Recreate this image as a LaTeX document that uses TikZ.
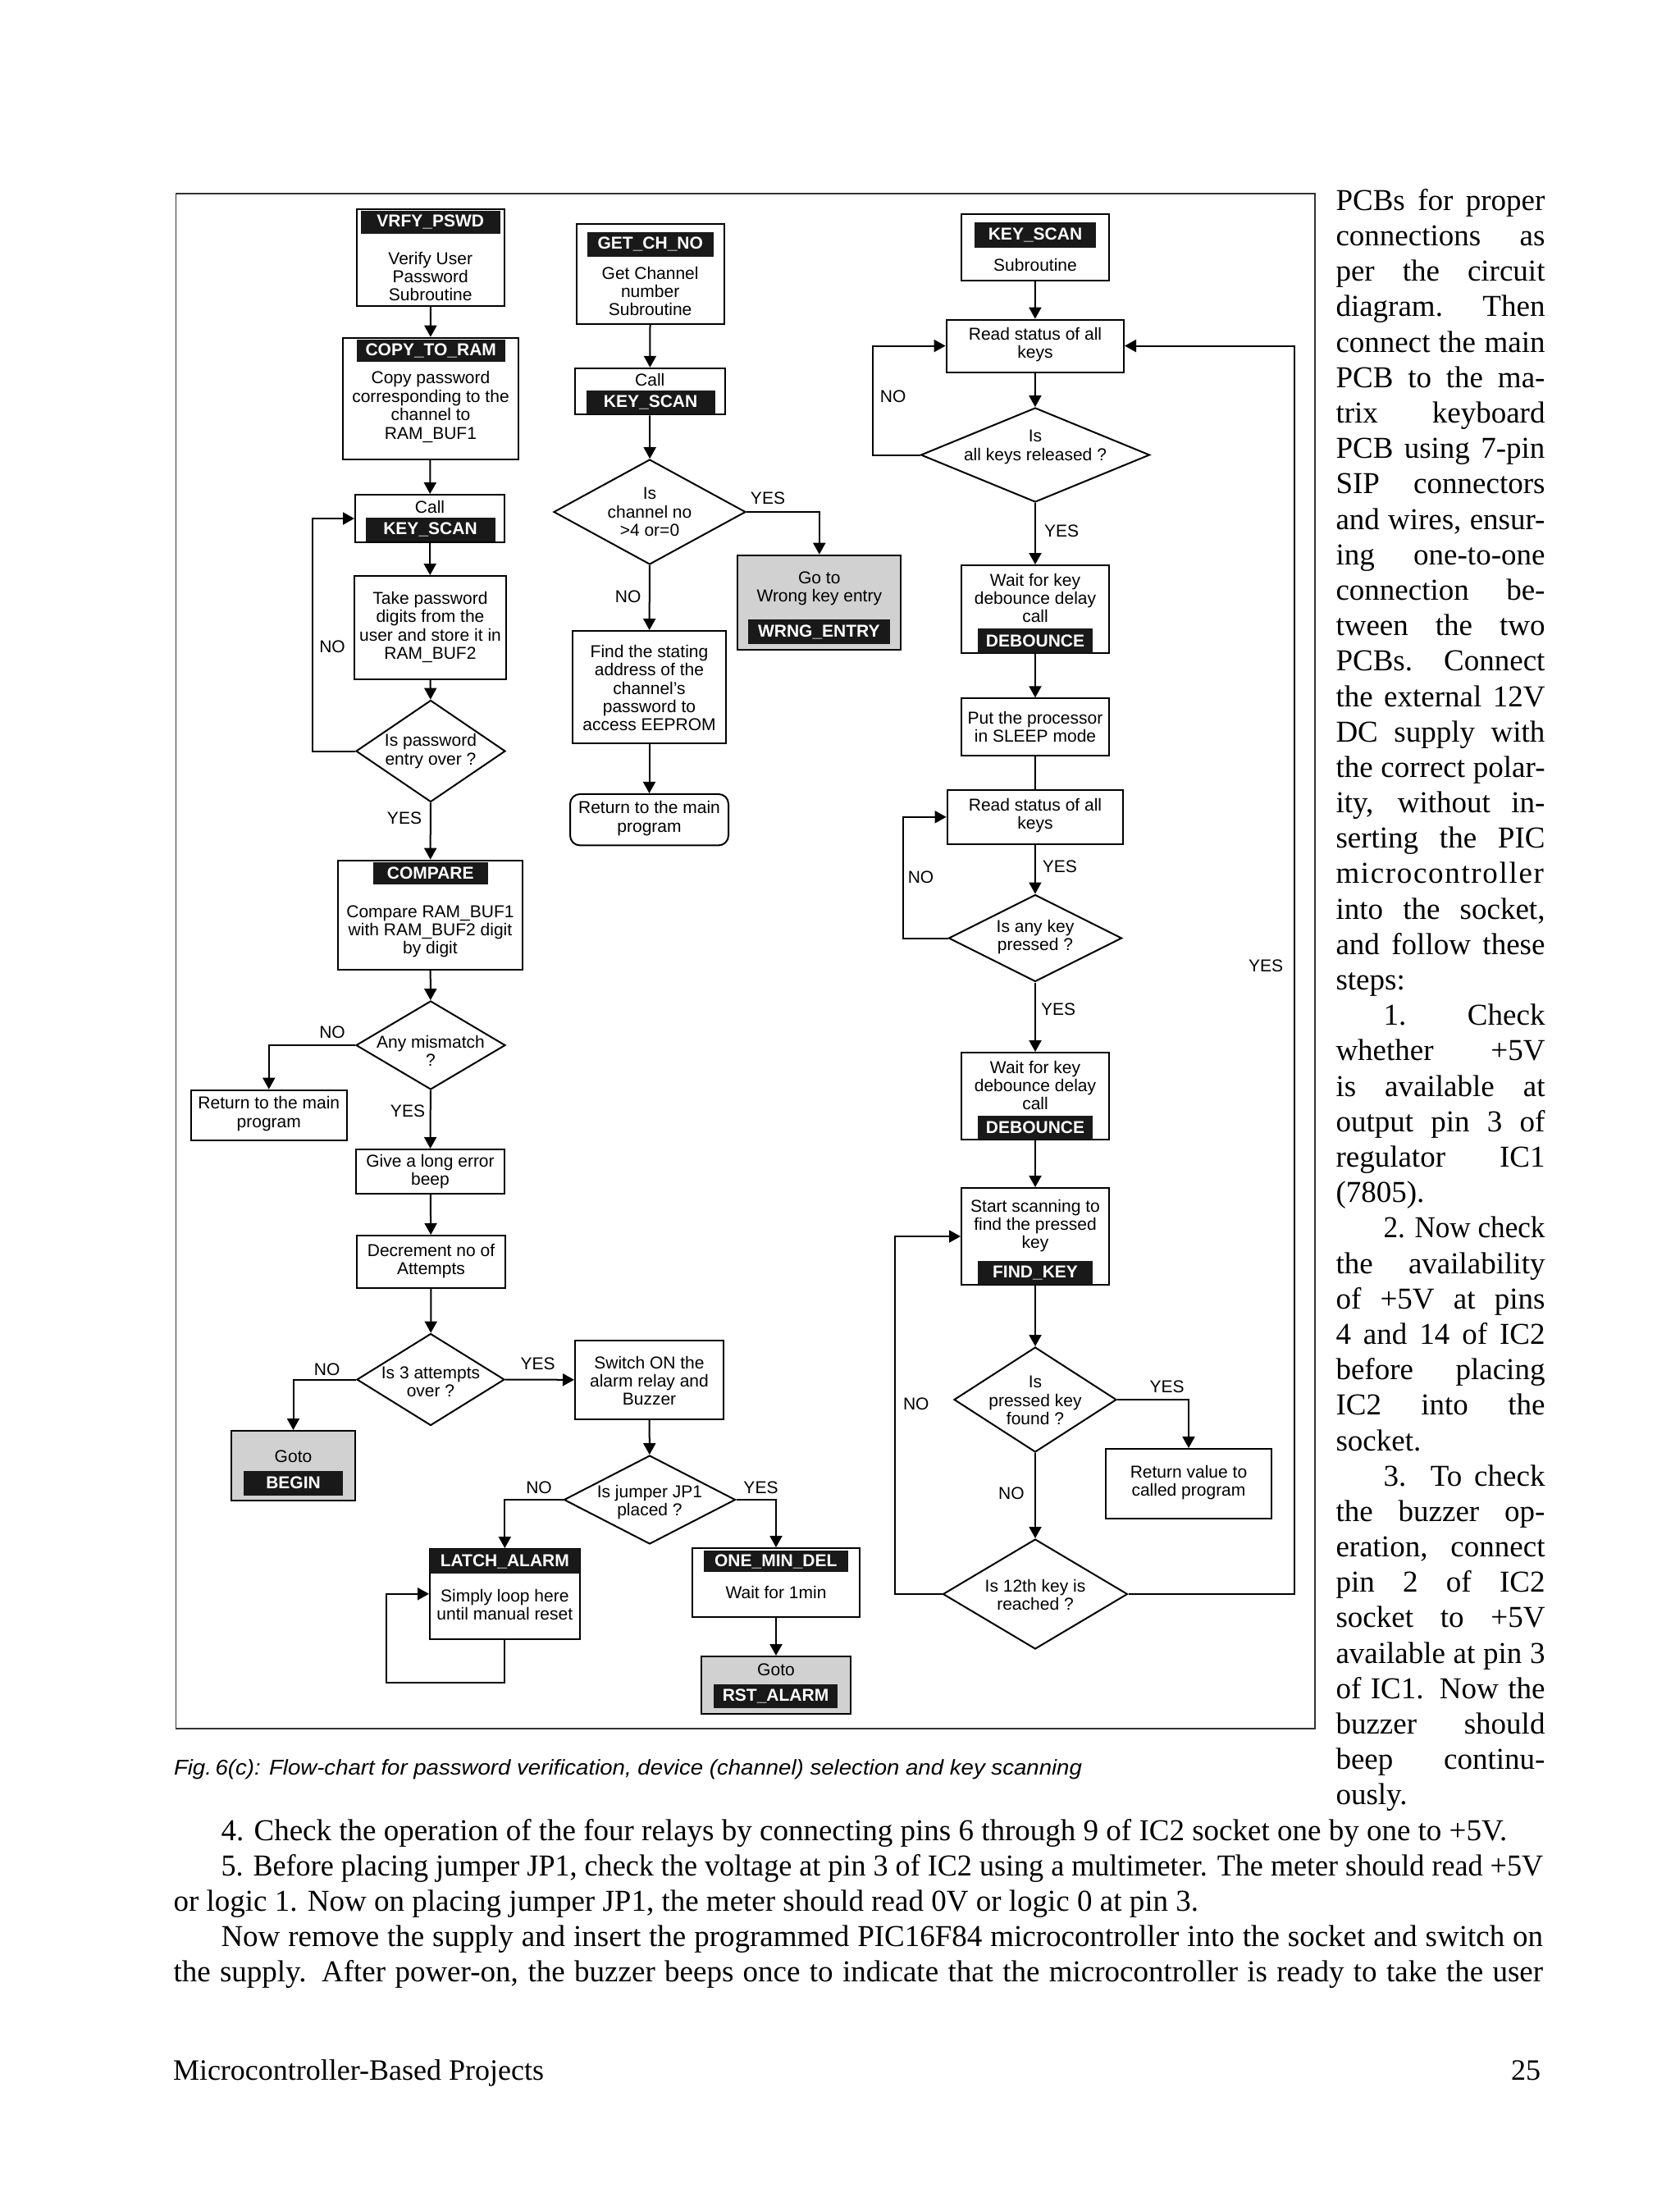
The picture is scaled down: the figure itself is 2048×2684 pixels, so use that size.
\documentclass[tikz,border=0pt]{standalone}
\usepackage{fontspec}
\setmainfont{Liberation Serif}
\setsansfont{Liberation Sans}
\usepackage{graphicx}
\usetikzlibrary{shapes.geometric,arrows.meta}

\definecolor{gotogray}{gray}{0.82}
\newlength\colw  \setlength\colw{127.5pt}
\newlength\colwi \setlength\colwi{98.5pt}
\newlength\parw  \setlength\parw{834.75pt}
\newlength\parwi \setlength\parwi{805.75pt}
% justified line: stretch the spaces, or squeeze if too wide
\newcommand\jline[2]{\sbox0{#2}\ifdim\wd0>#1\relax\resizebox{#1}{\height}{#2}\else\makebox[#1][s]{#2}\fi}

\begin{document}
\begin{tikzpicture}[x=0.5pt, y=-0.5pt, line width=1pt,
  sz/.style 2 args={minimum width=#1*0.5pt, minimum height=#2*0.5pt},
  box/.style={draw, fill=white, inner sep=0pt},
  gotobox/.style={draw, fill=gotogray, inner sep=0pt},
  decision/.style={draw, diamond, fill=white, inner sep=0pt},
  hdr/.style={fill=black!90, text=white, inner sep=0pt, font=\sffamily\bfseries\fontsize{10.5}{11.2}\selectfont},
  ftxt/.style={font=\sffamily\fontsize{10.5}{11.2}\selectfont, align=center, inner sep=0pt},
  yn/.style={font=\sffamily\fontsize{10.5}{11.2}\selectfont, inner sep=0pt},
  btxt/.style={font=\fontsize{18.5}{21.6}\selectfont, inner sep=0pt, anchor=mid west},
  arr/.style={-{Triangle[length=7pt,width=7.5pt]}}]
 \useasboundingbox (0,0) rectangle (2048,2684);

 % frame of the figure
 \draw[line width=0.8pt, black!80] (214.5,236) rectangle (1603,2107);

 % boxes
 \node[box, sz={180.5}{118.5}] (vrfy) at (524.75,313.75) {};
 \node[box, sz={214}{148.3}] (copy) at (525,485.85) {};
 \node[box, sz={182}{58}] (call1) at (524,632) {};
 \node[box, sz={185}{126}] (take) at (524.5,765) {};
 \node[box, sz={225}{133.3}] (cmp) at (524.5,1115.35) {};
 \node[box, sz={189.6}{61.1}] (ret1) at (327.8,1359.15) {};
 \node[box, sz={181}{54}] (beep) at (524.5,1428) {};
 \node[box, sz={181}{64}] (decr) at (525.5,1538) {};
 \node[box, sz={181}{95.6}] (alarm) at (791.5,1681.8) {};
 \node[box, sz={182.7}{109.5}] (latch) at (615.35,1942.75) {};
 \node[box, sz={204}{83.7}] (onemin) at (946,1928.85) {};
 \node[box, sz={179.9}{121.4}] (getch) at (792.65,334) {};
 \node[box, sz={182.6}{56.6}] (call2) at (792.3,477.1) {};
 \node[box, sz={187.8}{136.5}] (find) at (791.5,837.25) {};
 \node[box, sz={193}{62.5}, rounded corners=6pt] (ret2) at (791.5,999.15) {};
 \node[box, sz={180}{81.4}] (ks) at (1262,301.3) {};
 \node[box, sz={216.4}{63.9}] (rd1) at (1261.8,421.55) {};
 \node[box, sz={180}{106.6}] (db1) at (1262,742.3) {};
 \node[box, sz={180}{69.2}] (sleep) at (1262,885.9) {};
 \node[box, sz={214.4}{65.6}] (rd2) at (1261.8,995.8) {};
 \node[box, sz={180}{106}] (db2) at (1262,1336) {};
 \node[box, sz={180}{118}] (start) at (1262,1507) {};
 \node[box, sz={202}{84.7}] (retv) at (1449,1808.35) {};
 \node[gotobox, sz={151}{84.6}] (begin) at (357.5,1786.3) {};
 \node[gotobox, sz={199}{115}] (wrng) at (998.8,734.2) {};
 \node[gotobox, sz={182}{70}] (rst) at (946,2054) {};

 % decisions
 \node[decision, sz={182}{124}] (pswd) at (525,915.5) {};
 \node[decision, sz={182}{108}] (mis) at (525,1274) {};
 \node[decision, sz={180}{112}] (att) at (525,1681.5) {};
 \node[decision, sz={209}{108}] (jp1) at (792,1828) {};
 \node[decision, sz={234}{128}] (chn) at (792,624) {};
 \node[decision, sz={279}{115}] (rel) at (1262,554.5) {};
 \node[decision, sz={211}{106}] (any) at (1262,1143.5) {};
 \node[decision, sz={198}{128}] (found) at (1262,1706) {};
 \node[decision, sz={225}{134}] (k12) at (1262,1943) {};

 % black name bars
 \node[hdr, sz={170.4}{27.5}] (vrfyH) at (524.8,270.75) {VRFY\_PSWD};
 \node[hdr, sz={181.5}{27}] (copyH) at (525.25,427.5) {COPY\_TO\_RAM};
 \node[hdr, sz={158}{29}] (call1H) at (524.5,645.5) {KEY\_SCAN};
 \node[hdr, sz={140}{26.7}] (cmpH) at (524.75,1064.35) {COMPARE};
 \node[hdr, sz={121}{30}] (beginH) at (357.5,1807.5) {BEGIN};
 \node[hdr, sz={182.7}{30}] (latchH) at (615.35,1903) {LATCH\_ALARM};
 \node[hdr, sz={175.5}{26}] (oneminH) at (945.75,1903) {ONE\_MIN\_DEL};
 \node[hdr, sz={151}{29}] (rstH) at (945.5,2067.5) {RST\_ALARM};
 \node[hdr, sz={154.5}{30.3}] (getchH) at (792.75,297.85) {GET\_CH\_NO};
 \node[hdr, sz={157}{29}] (call2H) at (793.1,490.9) {KEY\_SCAN};
 \node[hdr, sz={173.3}{30}] (wrngH) at (998.35,770) {WRNG\_ENTRY};
 \node[hdr, sz={148}{30.3}] (ksH) at (1262,286.45) {KEY\_SCAN};
 \node[hdr, sz={140}{29.1}] (db1H) at (1262,781) {DEBOUNCE};
 \node[hdr, sz={140}{29}] (db2H) at (1262,1374.5) {DEBOUNCE};
 \node[hdr, sz={140}{28.7}] (startH) at (1262,1551.65) {FIND\_KEY};

 % texts in the boxes
 \node[ftxt] (vrfyT) at (524.75,337) {Verify User\\Password\\Subroutine};
 \node[ftxt] (copyT) at (525,496) {Copy password\\corresponding to the\\channel to\\RAM\_BUF1};
 \node[ftxt] (call1T) at (524,617.5) {Call};
 \node[ftxt] (takeT) at (524.5,764.5) {Take password\\digits from the\\user and store it in\\RAM\_BUF2};
 \node[ftxt] (pswdT) at (525,915.5) {Is password\\entry over ?};
 \node[ftxt] (cmpT) at (524.5,1135.3) {Compare RAM\_BUF1\\with RAM\_BUF2 digit\\by digit};
 \node[ftxt] (misT) at (525,1281) {Any mismatch\\?};
 \node[ftxt] (ret1T) at (327.8,1357.6) {Return to the main\\program};
 \node[ftxt] (beepT) at (524.5,1427.8) {Give a long error\\beep};
 \node[ftxt] (decrT) at (525.5,1537) {Decrement no of\\Attempts};
 \node[ftxt] (attT) at (525,1684) {Is 3 attempts\\over ?};
 \node[ftxt] (beginT) at (357.5,1775) {Goto};
 \node[ftxt] (alarmT) at (791.5,1683) {Switch ON the\\alarm relay and\\Buzzer};
 \node[ftxt] (jp1T) at (792,1831) {Is jumper JP1\\placed ?};
 \node[ftxt] (latchT) at (615.35,1956) {Simply loop here\\until manual reset};
 \node[ftxt] (oneminT) at (946,1941) {Wait for 1min};
 \node[ftxt] (rstT) at (946,2035) {Goto};
 \node[ftxt] (getchT) at (792.65,355) {Get Channel\\number\\Subroutine};
 \node[ftxt] (call2T) at (792.3,463) {Call};
 \node[ftxt] (chnT) at (792,624) {Is\\channel no\\>4 or=0};
 \node[ftxt] (wrngT) at (998.8,717.5) {Go to\\Wrong key entry};
 \node[ftxt] (findT) at (791.5,838.5) {Find the stating\\address of the\\channel’s\\password to\\access EEPROM};
 \node[ftxt] (ret2T) at (791.5,997.5) {Return to the main\\program};
 \node[ftxt] (ksT) at (1262,322.6) {Subroutine};
 \node[ftxt] (rd1T) at (1262,420) {Read status of all\\keys};
 \node[ftxt] (relT) at (1262,545) {Is\\all keys released ?};
 \node[ftxt] (db1T) at (1262,729) {Wait for key\\debounce delay\\call};
 \node[ftxt] (sleepT) at (1262,886) {Put the processor\\in SLEEP mode};
 \node[ftxt] (rd2T) at (1262,994) {Read status of all\\keys};
 \node[ftxt] (anyT) at (1262,1142.3) {Is any key\\pressed ?};
 \node[ftxt] (db2T) at (1262,1323) {Wait for key\\debounce delay\\call};
 \node[ftxt] (startT) at (1262,1494) {Start scanning to\\find the pressed\\key};
 \node[ftxt] (foundT) at (1262,1707) {Is\\pressed key\\found ?};
 \node[ftxt] (retvT) at (1449,1806.8) {Return value to\\called program};
 \node[ftxt] (k12T) at (1262,1944) {Is 12th key is\\reached ?};

 % bends of the loops
 \coordinate (pswdLoop) at (381,915.5);
 \coordinate (latchLoopA) at (615.35,2051);
 \coordinate (latchLoopB) at (470.8,2051);
 \coordinate (relLoop) at (1064.3,554.5);
 \coordinate (anyLoop) at (1101,1143.5);
 \coordinate (k12LoopL) at (1091,1943);
 \coordinate (k12LoopR) at (1577.5,1943);

 % connectors
 \draw[arr] (vrfy) -- (copy);
 \draw[arr] (copy) -- (call1);
 \draw[arr] (call1) -- (take);
 \draw[arr] (take) -- (pswd);
 \draw[arr] (pswd.west) -- (pswdLoop) |- (call1.west);
 \draw[arr] (pswd) -- (cmp);
 \draw[arr] (cmp) -- (mis);
 \draw[arr] (mis.west) -| (ret1.north);
 \draw[arr] (mis) -- (beep);
 \draw[arr] (beep) -- (decr);
 \draw[arr] (decr) -- (att);
 \draw[arr] (att.west) -| (begin.north);
 \draw[arr] (att.east) -- (alarm.west);
 \draw[arr] (alarm) -- (jp1);
 \draw[arr] (jp1.west) -| (latch.north);
 \draw[arr] (jp1.east) -| (onemin.north);
 \draw[arr] (latch.south) -- (latchLoopA) -- (latchLoopB) |- (latch.west);
 \draw[arr] (onemin) -- (rst);
 \draw[arr] (getch) -- (call2);
 \draw[arr] (call2) -- (chn);
 \draw[arr] (chn.east) -| (wrng.north);
 \draw[arr] (chn) -- (find);
 \draw[arr] (find) -- (ret2);
 \draw[arr] (ks) -- (rd1);
 \draw[arr] (rd1) -- (rel);
 \draw[arr] (rel.west) -- (relLoop) |- (rd1.west);
 \draw[arr] (rel) -- (db1);
 \draw[arr] (db1) -- (sleep);
 \draw (sleep) -- (rd2);
 \draw[arr] (rd2) -- (any);
 \draw[arr] (any.west) -- (anyLoop) |- (rd2.west);
 \draw[arr] (any) -- (db2);
 \draw[arr] (db2) -- (start);
 \draw[arr] (start) -- (found);
 \draw[arr] (found.east) -| (retv.north);
 \draw[arr] (found) -- (k12);
 \draw[arr] (k12.west) -- (k12LoopL) |- (start.west);
 \draw[arr] (k12.east) -- (k12LoopR) |- (rd1.east);

 % YES / NO
 \node[yn] (no1) at (405,788) {NO};
 \node[yn] (yes1) at (493,997) {YES};
 \node[yn] (no2) at (405,1258.5) {NO};
 \node[yn] (yes2) at (497,1354.5) {YES};
 \node[yn] (no3) at (398.7,1669) {NO};
 \node[yn] (yes3) at (655.6,1662.5) {YES};
 \node[yn] (no4) at (657,1813.6) {NO};
 \node[yn] (yes4) at (927.5,1813.6) {YES};
 \node[yn] (yes5) at (936,607) {YES};
 \node[yn] (no5) at (765.6,727) {NO};
 \node[yn] (no6) at (1088.6,483) {NO};
 \node[yn] (yes6) at (1294,647) {YES};
 \node[yn] (yes7) at (1291.8,1056.7) {YES};
 \node[yn] (no7) at (1122.5,1069) {NO};
 \node[yn] (yes8) at (1290,1230) {YES};
 \node[yn] (yes9) at (1543,1177) {YES};
 \node[yn] (yes10) at (1422.5,1690) {YES};
 \node[yn] (no8) at (1116.8,1711.4) {NO};
 \node[yn] (no9) at (1232.9,1820) {NO};

 % caption
 \node[inner sep=0pt, anchor=base west] (caption) at (211,2163)
   {\resizebox{553.5pt}{\height}{\sffamily\itshape\fontsize{13}{15}\selectfont Fig.\,6(c): Flow-chart for password verification, device (channel) selection and key scanning}};

 % text column
 \node[btxt] (c0) at (1627.5,251.7) {\jline{\colw}{PCBs for proper}};
 \node[btxt] (c1) at (1627.5,294.9) {\jline{\colw}{connections as}};
 \node[btxt] (c2) at (1627.5,338.1) {\jline{\colw}{per the circuit}};
 \node[btxt] (c3) at (1627.5,381.3) {\jline{\colw}{diagram. Then}};
 \node[btxt] (c4) at (1627.5,424.5) {\jline{\colw}{connect the main}};
 \node[btxt] (c5) at (1627.5,467.7) {\jline{\colw}{PCB to the ma-}};
 \node[btxt] (c6) at (1627.5,510.8) {\jline{\colw}{trix keyboard}};
 \node[btxt] (c7) at (1627.5,554.0) {\jline{\colw}{PCB using 7-pin}};
 \node[btxt] (c8) at (1627.5,597.2) {\jline{\colw}{SIP connectors}};
 \node[btxt] (c9) at (1627.5,640.4) {\jline{\colw}{and wires, ensur-}};
 \node[btxt] (c10) at (1627.5,683.6) {\jline{\colw}{ing one-to-one}};
 \node[btxt] (c11) at (1627.5,726.8) {\jline{\colw}{connection be-}};
 \node[btxt] (c12) at (1627.5,770.0) {\jline{\colw}{tween the two}};
 \node[btxt] (c13) at (1627.5,813.2) {\jline{\colw}{PCBs. Connect}};
 \node[btxt] (c14) at (1627.5,856.4) {\jline{\colw}{the external 12V}};
 \node[btxt] (c15) at (1627.5,899.6) {\jline{\colw}{DC supply with}};
 \node[btxt] (c16) at (1627.5,942.7) {\jline{\colw}{the correct polar-}};
 \node[btxt] (c17) at (1627.5,985.9) {\jline{\colw}{ity, without in-}};
 \node[btxt] (c18) at (1627.5,1029.1) {\jline{\colw}{serting the PIC}};
 \node[btxt] (c19) at (1627.5,1072.3) {\addfontfeature{LetterSpace=4.5}microcontroller};
 \node[btxt] (c20) at (1627.5,1115.5) {\jline{\colw}{into the socket,}};
 \node[btxt] (c21) at (1627.5,1158.7) {\jline{\colw}{and follow these}};
 \node[btxt] (c22) at (1627.5,1201.9) {steps:};
 \node[btxt] (c23) at (1685.5,1245.1) {\jline{\colwi}{1. Check}};
 \node[btxt] (c24) at (1627.5,1288.3) {\jline{\colw}{whether +5V}};
 \node[btxt] (c25) at (1627.5,1331.5) {\jline{\colw}{is available at}};
 \node[btxt] (c26) at (1627.5,1374.6) {\jline{\colw}{output pin 3 of}};
 \node[btxt] (c27) at (1627.5,1417.8) {\jline{\colw}{regulator IC1}};
 \node[btxt] (c28) at (1627.5,1461.0) {(7805).};
 \node[btxt] (c29) at (1685.5,1504.2) {\jline{\colwi}{2. Now check}};
 \node[btxt] (c30) at (1627.5,1547.4) {\jline{\colw}{the availability}};
 \node[btxt] (c31) at (1627.5,1590.6) {\jline{\colw}{of +5V at pins}};
 \node[btxt] (c32) at (1627.5,1633.8) {\jline{\colw}{4 and 14 of IC2}};
 \node[btxt] (c33) at (1627.5,1677.0) {\jline{\colw}{before placing}};
 \node[btxt] (c34) at (1627.5,1720.2) {\jline{\colw}{IC2 into the}};
 \node[btxt] (c35) at (1627.5,1763.4) {socket.};
 \node[btxt] (c36) at (1685.5,1806.5) {\jline{\colwi}{3. To check}};
 \node[btxt] (c37) at (1627.5,1849.7) {\jline{\colw}{the buzzer op-}};
 \node[btxt] (c38) at (1627.5,1892.9) {\jline{\colw}{eration, connect}};
 \node[btxt] (c39) at (1627.5,1936.1) {\jline{\colw}{pin 2 of IC2}};
 \node[btxt] (c40) at (1627.5,1979.3) {\jline{\colw}{socket to +5V}};
 \node[btxt] (c41) at (1627.5,2022.5) {\jline{\colw}{available at pin 3}};
 \node[btxt] (c42) at (1627.5,2065.7) {\jline{\colw}{of IC1. Now the}};
 \node[btxt] (c43) at (1627.5,2108.9) {\jline{\colw}{buzzer should}};
 \node[btxt] (c44) at (1627.5,2152.1) {\jline{\colw}{beep continu-}};
 \node[btxt] (c45) at (1627.5,2195.3) {ously.};

 % text under the figure
 \node[btxt] (p0) at (268.5,2238.5) {4. Check the operation of the four relays by connecting pins 6 through 9 of IC2 socket one by one to +5V.};
 \node[btxt] (p1) at (268.5,2281.7) {\jline{\parwi}{5. Before placing jumper JP1, check the voltage at pin 3 of IC2 using a multimeter. The meter should read +5V}};
 \node[btxt] (p2) at (210.5,2324.9) {or logic 1. Now on placing jumper JP1, the meter should read 0V or logic 0 at pin 3.};
 \node[btxt] (p3) at (268.5,2368.1) {\jline{\parwi}{Now remove the supply and insert the programmed PIC16F84 microcontroller into the socket and switch on}};
 \node[btxt] (p4) at (210.5,2411.3) {\jline{\parw}{the supply. After power-on, the buzzer beeps once to indicate that the microcontroller is ready to take the user}};

 % page foot
 \node[inner sep=0pt, anchor=base west, font=\fontsize{18}{21.6}\selectfont] (foot) at (210,2535) {Microcontroller-Based Projects};
 \node[inner sep=0pt, anchor=base east, font=\fontsize{18}{21.6}\selectfont] (pageno) at (1879,2535) {25};
\end{tikzpicture}
\end{document}
